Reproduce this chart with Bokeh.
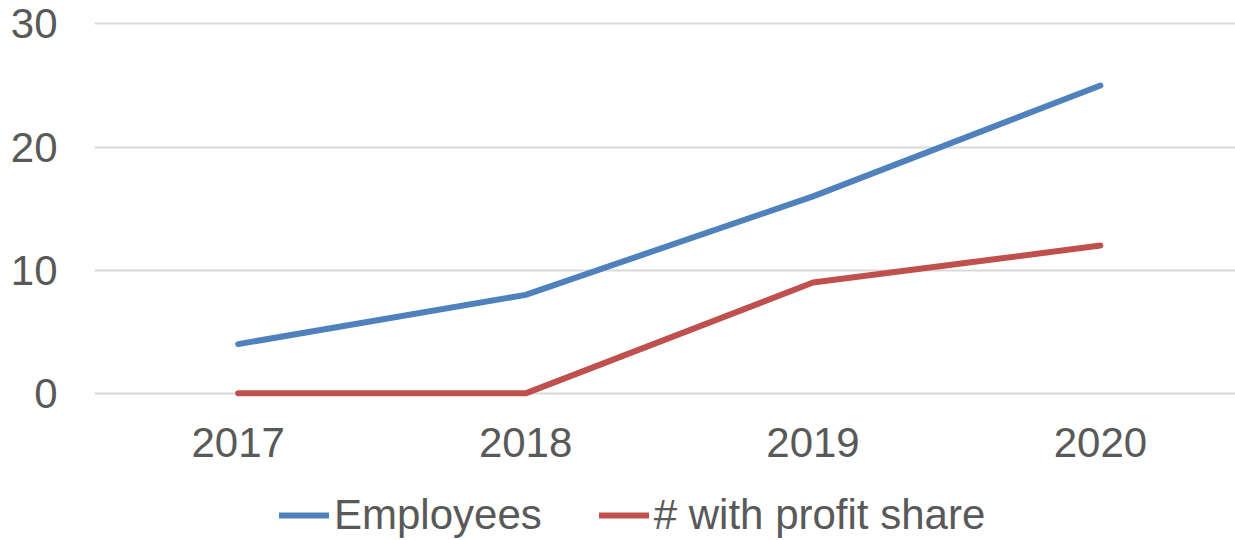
from bokeh.plotting import figure
from bokeh.layouts import column
from bokeh.models import Range1d, FixedTicker, Legend, LegendItem, ColumnDataSource
from bokeh.embed import file_html
from bokeh.resources import INLINE

years = [2017, 2018, 2019, 2020]
employees = [4, 8, 16, 25]
profit_share = [0, 0, 9, 12]
series_names = ["Employees", "# with profit share"]
y_ticks = [0, 10, 20, 30]

FONT = "Liberation Sans"
TXT = "#595959"
BLUE = "#4F81BD"
RED = "#C0504D"

p = figure(width=1235, height=475, output_backend="svg", toolbar_location=None,
           x_range=Range1d(2016.5, 2020.47), y_range=Range1d(-0.5, 30.2),
           min_border_left=94, min_border_right=0, min_border_top=21, min_border_bottom=76)
p.outline_line_color = None

src = ColumnDataSource(dict(x=years, emp=employees, prof=profit_share))
p.line("x", "emp", source=src, line_color=BLUE, line_width=6,
       line_cap="round", line_join="round")
p.line("x", "prof", source=src, line_color=RED, line_width=6,
       line_cap="round", line_join="round")

p.xaxis.ticker = FixedTicker(ticks=years)
p.yaxis.ticker = FixedTicker(ticks=y_ticks)
for ax in (p.xaxis, p.yaxis):
    ax.axis_line_color = None
    ax.major_tick_line_color = None
    ax.minor_tick_line_color = None
    ax.major_tick_out = 0
    ax.major_tick_in = 0
    ax.major_label_text_font = FONT
    ax.major_label_text_font_size = "42px"
    ax.major_label_text_color = TXT
p.xaxis.major_label_standoff = 28
p.yaxis.major_label_standoff = 37
p.xgrid.grid_line_color = None
p.ygrid.grid_line_color = "#D9D9D9"
p.ygrid.grid_line_width = 2

# legend strip: same series, ranges chosen so only the legend shows
lg = figure(width=1235, height=65, output_backend="svg", toolbar_location=None,
            x_range=Range1d(5000, 5001), y_range=Range1d(5000, 5001),
            x_axis_type=None, y_axis_type=None,
            min_border_left=0, min_border_right=0, min_border_top=0, min_border_bottom=0)
lg.outline_line_color = None
lg.xgrid.visible = False
lg.ygrid.visible = False
l1 = lg.line("x", "emp", source=src, line_color=BLUE, line_width=6, line_cap="round")
l2 = lg.line("x", "prof", source=src, line_color=RED, line_width=6, line_cap="round")

legend = Legend(items=[LegendItem(label=series_names[0], renderers=[l1]),
                       LegendItem(label=series_names[1], renderers=[l2])],
                orientation="horizontal", location=(185, 1),
                label_text_font=FONT, label_text_font_size="42px", label_text_color=TXT,
                glyph_width=50, glyph_height=42, label_height=42, label_standoff=5, spacing=57,
                padding=0, margin=0, border_line_color=None, background_fill_alpha=0)
lg.add_layout(legend, "center")

layout = column(p, lg, spacing=0)
open("out.html", "w").write(file_html(layout, INLINE))
